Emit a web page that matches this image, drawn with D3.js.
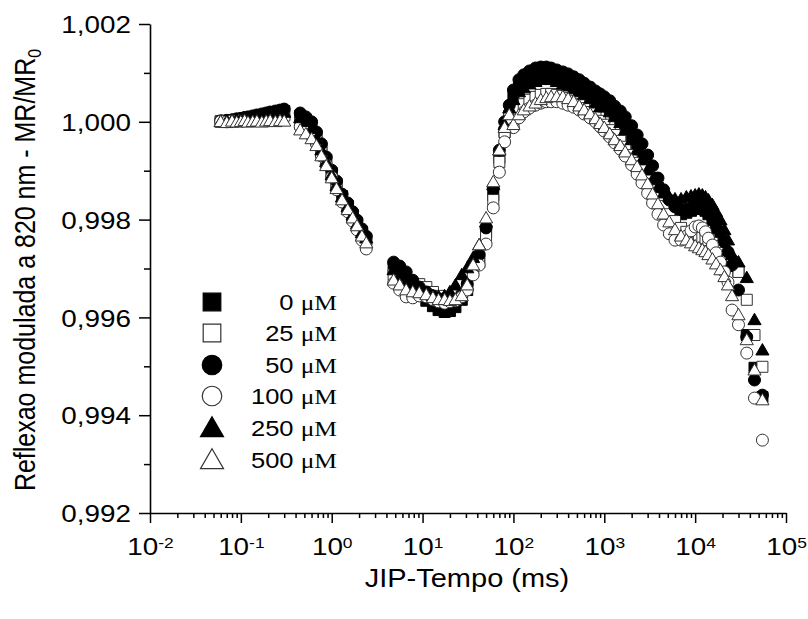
<!DOCTYPE html>
<html><head><meta charset="utf-8">
<script src="https://cdn.jsdelivr.net/npm/d3@7/dist/d3.min.js"></script>
<style>body{margin:0;background:#fff}</style>
</head><body>
<svg id="c" width="808" height="619"></svg>
<script>
// ---- data ----
const times = [
 0.06,0.07,0.08,0.09,0.10,0.11,0.12,0.135,0.15,0.17,0.19,0.21,0.24,0.27,0.30,
 0.45,0.52,0.60,0.68,0.77,0.87,1.0,1.13,1.3,1.5,1.7,1.9,2.15,2.4,
 4.8,5.6,6.6,7.8,9.2,11,13,15,17.5,20,23,27,31,36,42,50,60,70,80,90,
 100,115,130,150,175,200,230,260,300,350,400,460,530,600,700,800,900,
 1000,1150,1300,1500,1700,2000,2300,2600,3000,3400,3900,4500,5200,6000,7000,8000,9000,
 10000,11000,12000,13000,14000,15500,17000,19000,21000,23000,25500,30000,37000,45000,55000];

const s0 = [
 1.00001,1.00002,1.00003,1.00004,1.00006,1.00007,1.00008,1.00010,1.00011,1.00013,1.00015,1.00016,1.00018,1.00020,1.00022,
 1.00012,1.00004,0.99992,0.99971,0.99946,0.99922,0.99895,0.99873,0.99848,0.99828,0.99809,0.99793,0.99775,0.99760,
 0.99701,0.99687,0.99670,0.99656,0.99644,0.99634,0.99623,0.99615,0.99611,0.99613,0.99621,0.99636,0.99656,0.99697,0.99722,0.99775,0.99850,0.99926,0.99979,1.00012,
 1.00049,1.00069,1.00082,1.00090,1.00096,1.00100,1.00100,1.00098,1.00094,1.00090,1.00086,1.00079,1.00073,1.00067,1.00059,1.00051,1.00045,
 1.00038,1.00028,1.00018,1.00006,0.99992,0.99971,0.99951,0.99930,0.99908,0.99885,0.99865,0.99844,0.99828,0.99816,0.99811,0.99814,0.99818,
 0.99822,0.99824,0.99822,0.99818,0.99811,0.99799,0.99783,0.99762,0.99742,0.99724,0.99705,0.99693,0.99564,0.99497,0.99437];

const s25 = [
 1.00000,1.00002,1.00001,1.00003,1.00002,1.00004,1.00005,1.00004,1.00006,1.00007,1.00008,1.00009,1.00011,1.00012,1.00013,
 0.99996,0.99988,0.99977,0.99961,0.99938,0.99916,0.99889,0.99867,0.99844,0.99824,0.99805,0.99787,0.99769,0.99756,
 0.99687,0.99676,0.99666,0.99664,0.99668,0.99662,0.99652,0.99644,0.99638,0.99636,0.99638,0.99648,0.99664,0.99701,0.99713,0.99766,0.99840,0.99918,0.99979,1.00008,
 1.00004,1.00024,1.00036,1.00045,1.00051,1.00055,1.00057,1.00057,1.00055,1.00053,1.00049,1.00043,1.00036,1.00028,1.00020,1.00010,1.00002,
 0.99994,0.99983,0.99973,0.99961,0.99949,0.99932,0.99916,0.99901,0.99885,0.99867,0.99848,0.99828,0.99811,0.99797,0.99783,0.99775,0.99766,
 0.99766,0.99766,0.99764,0.99762,0.99758,0.99752,0.99746,0.99738,0.99732,0.99726,0.99713,0.99693,0.99636,0.99564,0.99499];

const s50 = [
 1.00002,1.00003,1.00004,1.00006,1.00007,1.00009,1.00010,1.00012,1.00014,1.00016,1.00018,1.00020,1.00022,1.00024,1.00026,
 1.00018,1.00010,1.00000,0.99979,0.99955,0.99928,0.99901,0.99879,0.99852,0.99834,0.99816,0.99799,0.99781,0.99766,
 0.99713,0.99705,0.99693,0.99676,0.99662,0.99652,0.99644,0.99638,0.99634,0.99632,0.99636,0.99646,0.99668,0.99705,0.99728,0.99783,0.99865,0.99942,1.00000,1.00034,
 1.00065,1.00086,1.00096,1.00104,1.00110,1.00112,1.00112,1.00110,1.00106,1.00102,1.00098,1.00092,1.00086,1.00079,1.00071,1.00063,1.00057,
 1.00051,1.00043,1.00032,1.00022,1.00010,0.99992,0.99973,0.99955,0.99932,0.99910,0.99885,0.99861,0.99840,0.99826,0.99820,0.99820,0.99824,
 0.99830,0.99834,0.99834,0.99830,0.99824,0.99811,0.99795,0.99775,0.99754,0.99734,0.99707,0.99656,0.99560,0.99472,0.99441];

const s100 = [
 1.00001,1.00000,1.00002,1.00001,1.00003,1.00002,1.00004,1.00003,1.00004,1.00006,1.00005,1.00007,1.00006,1.00008,1.00009,
 0.99990,0.99981,0.99971,0.99955,0.99930,0.99912,0.99887,0.99861,0.99836,0.99816,0.99797,0.99779,0.99758,0.99740,
 0.99670,0.99656,0.99642,0.99640,0.99644,0.99642,0.99636,0.99632,0.99629,0.99632,0.99634,0.99642,0.99656,0.99687,0.99707,0.99750,0.99824,0.99897,0.99959,0.99994,
 0.99988,1.00008,1.00020,1.00028,1.00034,1.00038,1.00041,1.00041,1.00041,1.00038,1.00034,1.00030,1.00024,1.00016,1.00008,1.00000,0.99990,
 0.99981,0.99969,0.99957,0.99944,0.99930,0.99912,0.99893,0.99875,0.99854,0.99834,0.99811,0.99789,0.99771,0.99758,0.99758,0.99766,0.99777,
 0.99785,0.99787,0.99783,0.99775,0.99762,0.99748,0.99732,0.99713,0.99693,0.99672,0.99615,0.99585,0.99527,0.99435,0.99349];

const s250 = [
 1.00000,1.00001,1.00003,1.00004,1.00005,1.00006,1.00007,1.00009,1.00010,1.00012,1.00013,1.00015,1.00016,1.00018,1.00019,
 1.00008,1.00000,0.99986,0.99965,0.99942,0.99918,0.99891,0.99869,0.99846,0.99826,0.99809,0.99791,0.99773,0.99762,
 0.99697,0.99685,0.99672,0.99662,0.99656,0.99650,0.99644,0.99642,0.99644,0.99652,0.99666,0.99687,0.99701,0.99722,0.99748,0.99795,0.99871,0.99942,0.99994,1.00028,
 1.00045,1.00061,1.00069,1.00077,1.00082,1.00086,1.00088,1.00086,1.00082,1.00077,1.00073,1.00067,1.00061,1.00055,1.00047,1.00038,1.00030,
 1.00030,1.00020,1.00010,0.99998,0.99983,0.99963,0.99942,0.99922,0.99901,0.99881,0.99865,0.99854,0.99846,0.99842,0.99842,0.99846,0.99848,
 0.99850,0.99852,0.99850,0.99846,0.99840,0.99830,0.99816,0.99799,0.99779,0.99758,0.99728,0.99713,0.99681,0.99595,0.99533];

const s500 = [
 1.00000,0.99998,1.00001,0.99999,1.00000,1.00002,0.99999,1.00000,1.00001,0.99999,1.00001,1.00002,1.00000,1.00002,1.00001,
 0.99983,0.99975,0.99965,0.99951,0.99930,0.99910,0.99885,0.99863,0.99840,0.99820,0.99803,0.99787,0.99766,0.99752,
 0.99676,0.99666,0.99656,0.99652,0.99650,0.99646,0.99640,0.99636,0.99636,0.99634,0.99636,0.99644,0.99666,0.99707,0.99748,0.99803,0.99877,0.99942,0.99988,1.00014,
 0.99994,1.00014,1.00024,1.00032,1.00038,1.00045,1.00049,1.00051,1.00051,1.00051,1.00047,1.00041,1.00032,1.00024,1.00016,1.00006,0.99996,
 0.99988,0.99975,0.99963,0.99951,0.99938,0.99922,0.99908,0.99891,0.99873,0.99852,0.99832,0.99811,0.99795,0.99779,0.99766,0.99758,0.99752,
 0.99746,0.99742,0.99738,0.99734,0.99728,0.99719,0.99709,0.99697,0.99683,0.99666,0.99644,0.99605,0.99554,0.99492,0.99431];

const seriesLabels = ["0", "25", "50", "100", "250", "500"];
const seriesValues = [s0, s25, s50, s100, s250, s500];
const yTicks = [0.992, 0.994, 0.996, 0.998, 1.000, 1.002];
const yMinorTicks = [0.993, 0.995, 0.997, 0.999, 1.001];
const xTicks = [1e-2, 1e-1, 1e0, 1e1, 1e2, 1e3, 1e4, 1e5];
const xTickExp = ["-2", "-1", "0", "1", "2", "3", "4", "5"];
const xTitle = "JIP-Tempo (ms)";
const yTitle = "Reflexao modulada a 820 nm - MR/MR";

// ---- styles ----
const SX = 1.16;  // horizontal stretch of the reference text
const SANS = "'Liberation Sans', Arial, sans-serif";
const SERIF = "'Liberation Serif', 'Times New Roman', serif";
const styles = [
  {type: d3.symbolSquare,   fill: "#000", size: 121},
  {type: d3.symbolSquare,   fill: "#fff", size: 121},
  {type: d3.symbolCircle,   fill: "#000", size: 113},
  {type: d3.symbolCircle,   fill: "#fff", size: 113},
  {type: d3.symbolTriangle, fill: "#000", size: 75},
  {type: d3.symbolTriangle, fill: "#fff", size: 75}
];
const legendSize = [310, 310, 300, 300, 230, 230];

const svg = d3.select("#c");
const x = d3.scaleLog().domain([1e-2, 1e5]).range([150, 786]);
const y = d3.scaleLinear().domain([0.992, 1.002]).range([513, 24]);

// ---- data markers ----
seriesValues.forEach((vals, si) => {
  const st = styles[si];
  const sym = d3.symbol().type(st.type).size(st.size);
  const dy = st.type === d3.symbolTriangle ? 1 : 0;
  svg.append("g").selectAll("path")
    .data(times.map((t, i) => [t, vals[i]]))
    .join("path")
    .attr("d", sym)
    .attr("transform", d => `translate(${x(d[0])},${y(d[1]) + dy})`)
    .attr("fill", st.fill)
    .attr("stroke", st.fill === "#000" ? "#000" : "#333")
    .attr("stroke-width", 1);
});

// ---- axes ----
const axisStyle = g => {
  g.selectAll(".domain").attr("stroke", "#000").attr("stroke-width", 1.6);
  g.selectAll(".tick line").attr("stroke", "#000").attr("stroke-width", 1.5);
};
const gy = svg.append("g").attr("transform", "translate(150,0)")
  .call(d3.axisLeft(y).tickValues(yTicks).tickSize(11).tickSizeOuter(0)
    .tickFormat(d => d3.format(".3f")(d).replace(".", ",")))
  .call(axisStyle);
gy.selectAll(".tick text")
  .attr("x", 0).attr("dy", "0.36em")
  .attr("font-family", SANS).attr("font-size", 24).attr("fill", "#000")
  .attr("transform", `translate(-19,0) scale(${SX},1)`);
svg.append("g").attr("transform", "translate(150,0)")
  .call(d3.axisLeft(y).tickValues(yMinorTicks).tickSize(6).tickFormat(""))
  .call(axisStyle).select(".domain").remove();

const gx = svg.append("g").attr("transform", "translate(0,513)")
  .call(d3.axisBottom(x).tickValues(xTicks).tickSize(10).tickSizeOuter(0).tickFormat(""))
  .call(axisStyle);
gx.selectAll(".tick text").remove();
gx.selectAll(".tick").append("text")
  .attr("text-anchor", "middle").attr("fill", "#000")
  .attr("font-family", SANS).attr("font-size", 24)
  .attr("transform", `translate(0,42) scale(${SX},1)`)
  .each(function(d, i) {
    const t = d3.select(this);
    t.append("tspan").text("10");
    t.append("tspan").attr("dy", "-0.5em").attr("font-size", 15).text(xTickExp[i]);
  });
const minorX = x.ticks().filter(v => !xTicks.some(m => Math.abs(Math.log10(v) - Math.log10(m)) < 1e-9));
svg.append("g").attr("transform", "translate(0,513)")
  .call(d3.axisBottom(x).tickValues(minorX).tickSize(5).tickFormat(""))
  .call(axisStyle).select(".domain").remove();

// ---- titles ----
svg.append("text")
  .attr("transform", `translate(467,587) scale(${SX},1)`)
  .attr("text-anchor", "middle").attr("font-family", SANS).attr("font-size", 25)
  .attr("fill", "#000").text(xTitle);
const yt = svg.append("text")
  .attr("transform", `translate(35,270) scale(${SX},1) rotate(-90)`)
  .attr("text-anchor", "middle").attr("font-family", SANS).attr("font-size", 25)
  .attr("fill", "#000");
yt.append("tspan").text(yTitle);
yt.append("tspan").attr("dy", "0.3em").attr("font-size", 16).text("0");

// ---- legend ----
const legY = [302, 333, 365, 396, 428, 460];
seriesLabels.forEach((lab, i) => {
  const st = styles[i];
  const dy = st.type === d3.symbolTriangle ? 2 : 0;
  svg.append("path")
    .attr("d", d3.symbol().type(st.type).size(legendSize[i]))
    .attr("transform", `translate(212,${legY[i] + dy})`)
    .attr("fill", st.fill)
    .attr("stroke", st.fill === "#000" ? "#000" : "#333")
    .attr("stroke-width", 1.2);
  const tx = svg.append("text")
    .attr("transform", `translate(337,${legY[i]}) scale(${SX},1)`)
    .attr("text-anchor", "end").attr("dy", "0.36em")
    .attr("font-size", 22).attr("fill", "#000");
  tx.append("tspan").attr("font-family", SANS).text(lab + " ");
  tx.append("tspan").attr("font-family", SERIF).text("\u03bcM");
});
</script>
</body></html>
